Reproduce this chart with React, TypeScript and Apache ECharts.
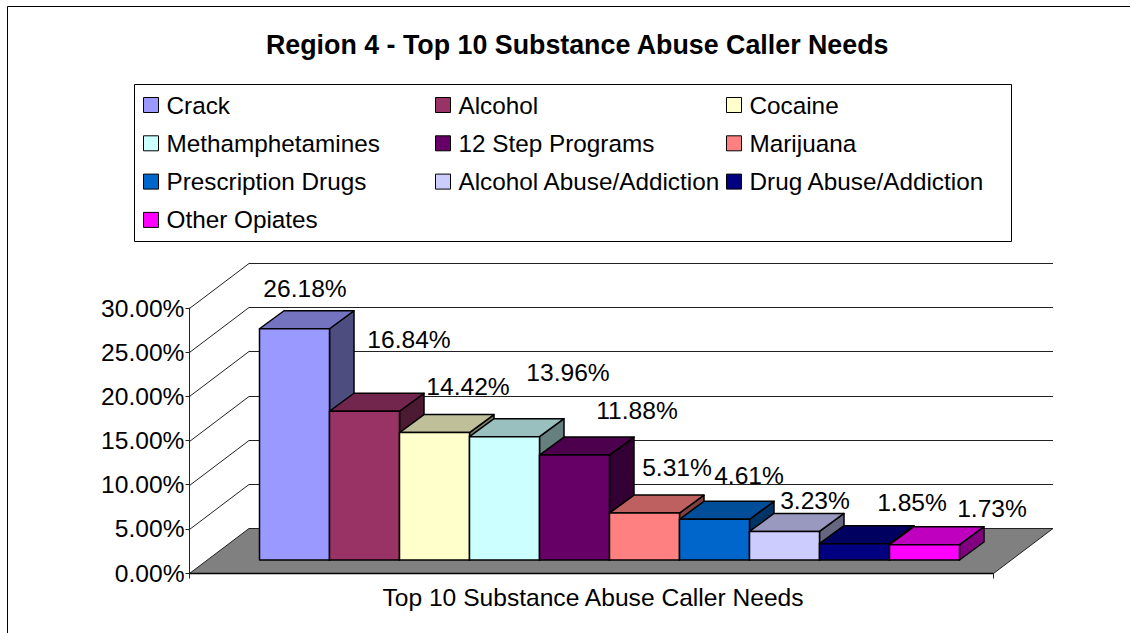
import React, { useEffect, useRef } from "react";
import * as echarts from "echarts";

const CATEGORIES = ["Crack", "Alcohol", "Cocaine", "Methamphetamines", "12 Step Programs", "Marijuana", "Prescription Drugs", "Alcohol Abuse/Addiction", "Drug Abuse/Addiction", "Other Opiates"];
const VALUES = [26.18, 16.84, 14.42, 13.96, 11.88, 5.31, 4.61, 3.23, 1.85, 1.73];
const COLORS = ["#9999FF", "#993366", "#FFFFCC", "#CCFFFF", "#660066", "#FF8080", "#0066CC", "#CCCCFF", "#000080", "#FF00FF"];
const AXIS_TICKS = [0, 5, 10, 15, 20, 25, 30];
const LEGEND_COLUMNS = [
  ["Crack", "Methamphetamines", "Prescription Drugs", "Other Opiates"],
  ["Alcohol", "12 Step Programs", "Alcohol Abuse/Addiction"],
  ["Cocaine", "Marijuana", "Drug Abuse/Addiction"],
];
const LEGEND_LEFT = [143, 435, 726];
const TITLE = "Region 4 - Top 10 Substance Abuse Caller Needs";
const X_NAME = "Top 10 Substance Abuse Caller Needs";

// Where each value label sits relative to the top centre of its bar (px)
const LABEL_OFFSETS = [[10.5, -40], [44.5, -72], [33.5, -46], [63.5, -64], [62.5, -45], [32.5, -46], [34.5, -44], [30.5, -31], [57.5, -41.6], [67.5, -36.7]];

const FONT = "'Liberation Sans', Arial, sans-serif";
const FONT_SIZE = 24.6;
const LEGEND_FONT_SIZE = 24.3;
const TITLE_FONT_SIZE = 26.8;
// Oblique depth of the 3D look
const BAR_DX = 24.5, BAR_DY = -18, BAR_LIFT = -13;
const WALL_DX = 59.5, WALL_DY = -45;
const FLOOR_LEFT = 189.5, FLOOR_RIGHT = 993.5;

function shade(hex: string, k: number) {
  const n = parseInt(hex.slice(1), 16);
  const c = [(n >> 16) & 255, (n >> 8) & 255, n & 255].map((v) => Math.round(v * k));
  return `rgb(${c[0]},${c[1]},${c[2]})`;
}

function wallRender(_: any, api: any) {
  const v = api.value(0);
  const y = Math.round(api.coord([0, v])[1]) + 0.5;
  const children: any[] = [];
  const stroke = { stroke: "#222", lineWidth: 1, fill: "none" };
  if (v === 0) {
    children.push({
      type: "polygon",
      shape: { points: [[FLOOR_LEFT, y], [FLOOR_LEFT + WALL_DX, y + WALL_DY], [FLOOR_RIGHT + WALL_DX, y + WALL_DY], [FLOOR_RIGHT, y]] },
      style: { fill: "#808080", stroke: "#222", lineWidth: 1 },
    });
    children.push({ type: "line", shape: { x1: FLOOR_LEFT, y1: y, x2: FLOOR_RIGHT, y2: y }, style: { stroke: "#000", lineWidth: 1.5 } });
    children.push({ type: "line", shape: { x1: FLOOR_LEFT, y1: y, x2: FLOOR_LEFT, y2: y + 5 }, style: stroke });
    children.push({ type: "line", shape: { x1: FLOOR_RIGHT, y1: y, x2: FLOOR_RIGHT, y2: y + 5 }, style: stroke });
  } else {
    children.push({
      type: "polyline",
      shape: { points: [[FLOOR_LEFT, y], [FLOOR_LEFT + WALL_DX, y + WALL_DY], [FLOOR_RIGHT + WALL_DX, y + WALL_DY]] },
      style: stroke,
    });
  }
  return { type: "group", children };
}

function barRender(color: string, offset: number[]) {
  return (_: any, api: any) => {
    const cat = api.value(0);
    const val = api.value(1);
    const [cx, top0] = api.coord([cat, val]);
    const base = api.coord([cat, 0])[1] + BAR_LIFT;
    const top = top0 + BAR_LIFT;
    const half = api.size([1, 0])[0] / 2;
    const l = cx - half, r = cx + half;
    const edge = { stroke: "#000", lineWidth: 1.5, lineJoin: "round" };
    return {
      type: "group",
      children: [
        {
          type: "polygon",
          shape: { points: [[r, top], [r + BAR_DX, top + BAR_DY], [r + BAR_DX, base + BAR_DY], [r, base]] },
          style: { fill: shade(color, 0.5), ...edge },
        },
        {
          type: "polygon",
          shape: { points: [[l, top], [l + BAR_DX, top + BAR_DY], [r + BAR_DX, top + BAR_DY], [r, top]] },
          style: { fill: shade(color, 0.75), ...edge },
        },
        { type: "polygon", shape: { points: [[l, top], [r, top], [r, base], [l, base]] }, style: { fill: color, ...edge } },
        {
          type: "text",
          x: cx + offset[0],
          y: top + offset[1],
          style: {
            text: val.toFixed(2) + "%",
            fill: "#000",
            font: `${FONT_SIZE}px ${FONT}`,
            align: "center",
            verticalAlign: "middle",
          },
        },
      ],
    };
  };
}

export default function App() {
  const ref = useRef<HTMLDivElement>(null);
  useEffect(() => {
    const chart = echarts.init(ref.current!, null, { renderer: "svg" });
    chart.setOption({
      animation: false,
      backgroundColor: "#fff",
      title: {
        text: TITLE,
        left: 261,
        top: 26,
        textStyle: { fontFamily: FONT, fontSize: TITLE_FONT_SIZE, fontWeight: "bold", color: "#000" },
      },
      legend: LEGEND_COLUMNS.map((names, i) => ({
        data: names,
        orient: "vertical",
        left: LEGEND_LEFT[i],
        top: 93,
        selectedMode: false,
        icon: "rect",
        itemWidth: 15,
        itemHeight: 15,
        itemGap: 14.3,
        padding: 0,
        itemStyle: { borderColor: "#000", borderWidth: 1 },
        textStyle: { fontFamily: FONT, fontSize: LEGEND_FONT_SIZE, color: "#000", padding: [0, 0, 0, 3] },
      })),
      grid: { left: 259.5, top: 308, width: 700, height: 265 },
      xAxis: {
        type: "category",
        data: CATEGORIES,
        axisLine: { show: false },
        axisTick: { show: false },
        axisLabel: { show: false },
        name: X_NAME,
        nameLocation: "middle",
        nameGap: 12,
        nameTextStyle: { fontFamily: FONT, fontSize: FONT_SIZE, color: "#000", padding: [0, 33, 0, 0] },
      },
      yAxis: {
        type: "value",
        min: 0,
        max: 30,
        interval: 5,
        offset: 70,
        axisLine: { show: true, lineStyle: { color: "#222", width: 1 } },
        axisTick: { show: true, length: 4, lineStyle: { color: "#222" } },
        splitLine: { show: false },
        axisLabel: {
          margin: 5,
          fontFamily: FONT,
          fontSize: FONT_SIZE,
          color: "#000",
          formatter: (v: number) => v.toFixed(2) + "%",
        },
      },
      graphic: [
        { type: "polyline", shape: { points: [[7.5, 633], [7.5, 6.5], [1130, 6.5]] }, style: { stroke: "#000", lineWidth: 1, fill: "none" } },
        { type: "rect", shape: { x: 134.5, y: 84.5, width: 877, height: 157 }, style: { stroke: "#000", lineWidth: 1, fill: "none" } },
      ],
      series: [
        {
          type: "custom",
          name: "Gridlines",
          renderItem: wallRender,
          data: AXIS_TICKS.map((v) => [v]),
          encode: { y: 0 },
          clip: false,
          silent: true,
          z: 1,
        },
        ...CATEGORIES.map((name, i) => ({
          type: "custom",
          name,
          renderItem: barRender(COLORS[i], LABEL_OFFSETS[i]),
          data: [[name, VALUES[i]]],
          encode: { x: 0, y: 1 },
          itemStyle: { color: COLORS[i] },
          clip: false,
          z: 2 + i,
        })),
      ],
    });
    return () => chart.dispose();
  }, []);
  return <div ref={ref} style={{ position: "absolute", left: 0, top: 0, width: 1130, height: 633 }} />;
}
